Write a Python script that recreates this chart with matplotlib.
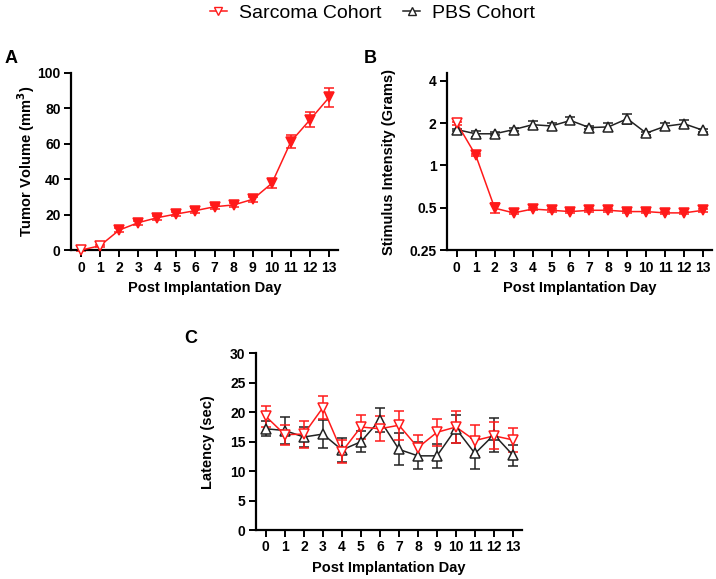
import numpy as np
import matplotlib.pyplot as plt
from matplotlib.lines import Line2D

plt.rcParams['font.family'] = ['Liberation Sans', 'DejaVu Sans']

days = np.arange(14)

# Panel A: tumor volume (mm^3), sarcoma only
vol_mean = [0, 2.5, 11.3, 15.5, 18.3, 20.4, 22.3, 24.5, 25.5, 28.7, 37.7, 61.3, 73.6, 86.2]
vol_err = [0.3, 0.5, 1.2, 1.2, 1.2, 1.2, 1.2, 1.2, 1.2, 1.3, 2.6, 3.6, 4.3, 5.2]
vol_filled = [False, False] + [True] * 12

# Panel B: stimulus intensity (grams)
stim_sarc = [2.0, 1.18, 0.497, 0.46, 0.49, 0.48, 0.47, 0.48, 0.48, 0.47, 0.47, 0.46, 0.46, 0.48]
stim_sarc_err = [0.05, 0.02, 0.04, 0.01, 0.01, 0.01, 0.01, 0.01, 0.01, 0.01, 0.01, 0.01, 0.01, 0.01]
stim_sarc_filled = [False] + [True] * 13
stim_pbs = [1.80, 1.68, 1.68, 1.80, 1.95, 1.91, 2.09, 1.86, 1.88, 2.15, 1.70, 1.90, 1.98, 1.78]
stim_pbs_err = [0.03, 0.08, 0.04, 0.04, 0.11, 0.11, 0.13, 0.04, 0.11, 0.17, 0.04, 0.11, 0.11, 0.04]

# Panel C: latency (sec)
lat_sarc = [19.3, 16.2, 16.3, 20.8, 13.3, 17.5, 17.2, 17.8, 14.0, 16.6, 17.5, 15.2, 16.0, 15.3]
lat_sarc_err = [1.8, 1.7, 2.3, 2.0, 2.0, 2.0, 2.1, 2.5, 2.1, 2.3, 2.8, 2.6, 2.3, 2.1]
lat_pbs = [17.2, 16.9, 15.8, 16.3, 13.6, 15.0, 18.7, 13.7, 12.6, 12.6, 17.2, 13.0, 16.2, 12.7]
lat_pbs_err = [1.3, 2.3, 1.7, 2.4, 2.0, 1.8, 2.0, 2.7, 2.3, 2.0, 2.4, 2.7, 2.9, 1.8]

RED = '#ff1a1a'
BLACK = '#222222'


def style_axes(ax, xlabel, ylabel, ypad):
    for side in ['top', 'right']:
        ax.spines[side].set_visible(False)
    for side in ['left', 'bottom']:
        ax.spines[side].set_linewidth(1.6)
    ax.tick_params(width=1.4, length=5, pad=2.5, labelsize=10)
    for lab in ax.get_xticklabels() + ax.get_yticklabels():
        lab.set_fontweight('bold')
    ax.set_xticks(days)
    ax.set_xlim(-0.52, 13.47)
    ax.set_xlabel(xlabel, fontsize=10.5, fontweight='bold', labelpad=5)
    ax.set_ylabel(ylabel, fontsize=10.5, fontweight='bold', labelpad=ypad)


def plot_series(ax, y, err, color, marker, filled, ms=7.5):
    ax.errorbar(days, y, yerr=err, color=color, lw=1.1, elinewidth=1.1,
                capsize=3.5, capthick=1.1, fmt='none', zorder=2, clip_on=False)
    ax.plot(days, y, color=color, lw=1.1, zorder=3, clip_on=False)
    for d, v, f in zip(days, y, filled):
        ax.plot(d, v, marker=marker, ms=ms, mec=color, mew=1.1,
                mfc=color if f else 'white', zorder=4, clip_on=False)


fig = plt.figure(figsize=(7.16, 5.79), dpi=100)

# A
axA = fig.add_axes([0.0992, 0.568, 0.373, 0.306])
plot_series(axA, vol_mean, vol_err, RED, 'v', vol_filled)
axA.set_ylim(0, 100)
axA.set_yticks([0, 20, 40, 60, 80, 100])
style_axes(axA, 'Post Implantation Day', 'Tumor Volume (mm$^\\mathbf{3}$)', 0)

# B
axB = fig.add_axes([0.6243, 0.568, 0.370, 0.306])
plot_series(axB, stim_pbs, stim_pbs_err, BLACK, '^', [False] * 14)
plot_series(axB, stim_sarc, stim_sarc_err, RED, 'v', stim_sarc_filled)
axB.set_yscale('log', base=2)
axB.set_ylim(0.25, 4.55)
axB.set_yticks([0.25, 0.5, 1, 2, 4])
axB.set_yticklabels(['0.25', '0.5', '1', '2', '4'])
axB.minorticks_off()
style_axes(axB, 'Post Implantation Day', 'Stimulus Intensity (Grams)', 10)

# C
axC = fig.add_axes([0.3575, 0.0846, 0.3715, 0.305])
plot_series(axC, lat_pbs, lat_pbs_err, BLACK, '^', [False] * 14)
plot_series(axC, lat_sarc, lat_sarc_err, RED, 'v', [False] * 14)
axC.set_ylim(0, 30)
axC.set_yticks([0, 5, 10, 15, 20, 25, 30])
style_axes(axC, 'Post Implantation Day', 'Latency (sec)', 11)

# panel letters
fig.text(0.007, 0.891, 'A', fontsize=13, fontweight='bold')
fig.text(0.508, 0.891, 'B', fontsize=13, fontweight='bold')
fig.text(0.258, 0.408, 'C', fontsize=13, fontweight='bold')

handles = [
    Line2D([], [], color=RED, lw=1.1, marker='v', ms=5.5, mfc='white', mec=RED),
    Line2D([], [], color=BLACK, lw=1.1, marker='^', ms=5.5, mfc='white', mec=BLACK),
]
fig.legend(handles, ['Sarcoma Cohort', 'PBS Cohort'], loc='center',
           bbox_to_anchor=(0.52, 0.978), ncol=2, frameon=False, fontsize=14,
           handlelength=0.9, handletextpad=0.6, columnspacing=1.1)

fig.savefig('out.png', dpi=100)
